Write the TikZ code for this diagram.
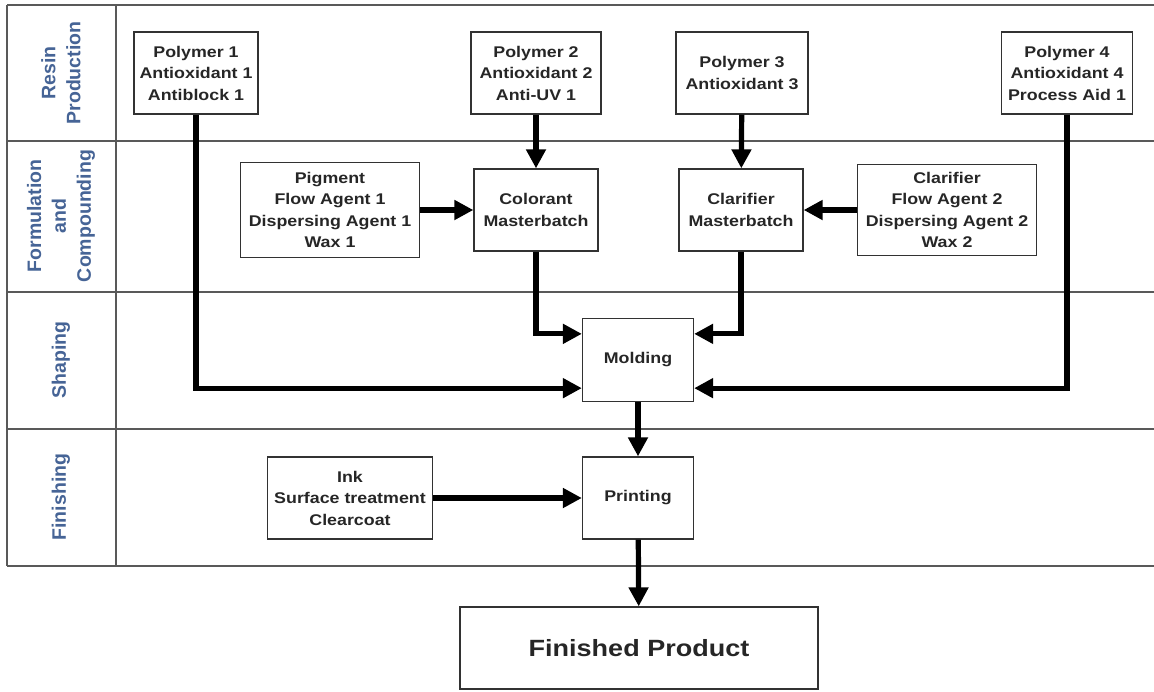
\documentclass[tikz,border=0pt]{standalone}
\usepackage{fontspec}
\setmainfont{Liberation Sans}[FakeStretch=1.15]
\newfontfamily\lanefont{Liberation Sans}
\usetikzlibrary{arrows.meta}
\definecolor{laneblue}{RGB}{70,100,150}
\definecolor{boxgray}{RGB}{50,50,50}

\begin{document}
\begin{tikzpicture}[x=1pt,y=-1pt,
  box/.style={draw=boxgray, line width=1.3pt, align=center, inner sep=0pt,
    font=\fontsize{15.5}{21.5}\selectfont\bfseries, text=black!85},
  lane/.style={rotate=90, align=center, text=laneblue,
    font=\lanefont\fontsize{19.5}{25}\selectfont\bfseries},
  flow/.style={line width=5.2pt, -{Triangle[length=19pt,width=19pt]}},
  lanegrid/.style={draw=black!65, line width=1.3pt}]
\useasboundingbox (0,0) rectangle (1154,691);

% swimlanes
\foreach \y in {5,141,292,429,566}
  \path[lanegrid] (7,\y) -- (1154,\y);
\path[lanegrid] (7,5) -- (7,566);
\path[lanegrid] (116,5) -- (116,566);
\node[lane] (resin) at (61,73) {Resin\\Production};
\node[lane] (formul) at (61,216) {Formulation\\and\\Compounding};
\node[lane] (shaping) at (61,360) {Shaping};
\node[lane] (finishing) at (61,497) {Finishing};

% boxes
\node[box, minimum width=124pt, minimum height=82pt] (poly1) at (196,73) {Polymer 1\\Antioxidant 1\\Antiblock 1};
\node[box, minimum width=130pt, minimum height=82pt] (poly2) at (536,73) {Polymer 2\\Antioxidant 2\\Anti-UV 1};
\node[box, minimum width=132pt, minimum height=82pt] (poly3) at (742,73) {Polymer 3\\Antioxidant 3};
\node[box, minimum width=131pt, minimum height=82pt] (poly4) at (1067,73) {Polymer 4\\Antioxidant 4\\Process Aid 1};
\node[box, minimum width=179pt, minimum height=95pt] (pigment) at (330,210) {Pigment\\Flow Agent 1\\Dispersing Agent 1\\Wax 1};
\node[box, minimum width=124pt, minimum height=82pt] (colorant) at (536,210) {Colorant\\Masterbatch};
\node[box, minimum width=124pt, minimum height=82pt] (clarmb) at (741,210) {Clarifier\\Masterbatch};
\node[box, minimum width=179pt, minimum height=91pt] (clarifier) at (947,210) {Clarifier\\Flow Agent 2\\Dispersing Agent 2\\Wax 2};
\node[box, minimum width=111pt, minimum height=83pt] (molding) at (638,360) {Molding};
\node[box, minimum width=111pt, minimum height=82pt] (printing) at (638,498) {Printing};
\node[box, minimum width=165pt, minimum height=82pt] (ink) at (350,498) {Ink\\Surface treatment\\Clearcoat};
\node[box, minimum width=358pt, minimum height=82pt,
  font=\fontsize{23.5}{28}\selectfont\bfseries] (finished) at (639,648) {Finished Product};

% flows
\path[draw,flow] (poly2) -- (colorant);
\path[draw,flow] (poly3) -- (clarmb);
\path[draw,flow] (pigment) -- (colorant);
\path[draw,flow] (clarifier) -- (clarmb);
\path[draw,flow] (colorant.south) |- ([yshift=-16pt]molding.north west);
\path[draw,flow] (clarmb.south) |- ([yshift=-16pt]molding.north east);
\path[draw,flow] (poly1.south) |- ([yshift=14pt]molding.south west);
\path[draw,flow] (poly4.south) |- ([yshift=14pt]molding.south east);
\path[draw,flow] (molding) -- (printing);
\path[draw,flow] (ink) -- (printing);
\path[draw,flow] (printing) -- (finished);
\end{tikzpicture}
\end{document}
